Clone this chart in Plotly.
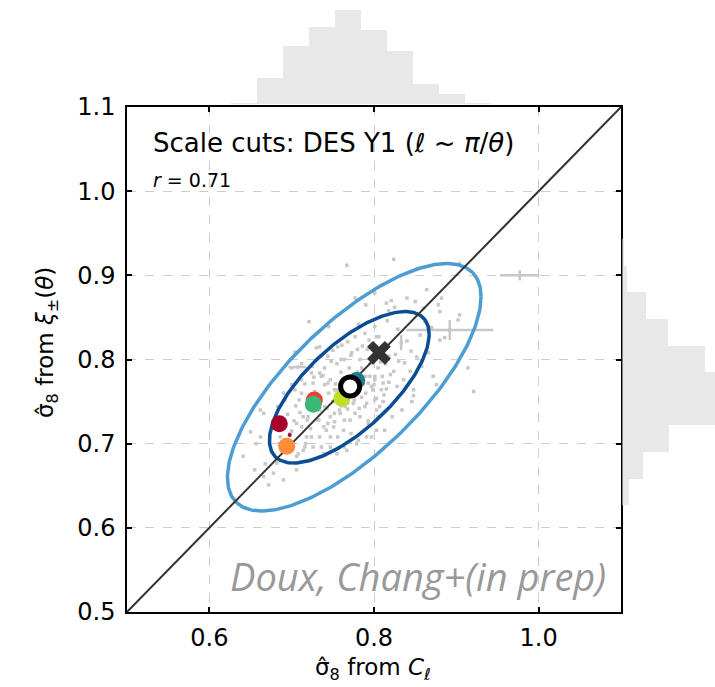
import numpy as np
import plotly.graph_objects as go

# ---------------- data ----------------
# gray simulation points (sigma8 from C_ell, sigma8 from xi)
sim_x = [0.767,0.824,0.904,0.801,0.815,0.790,0.777,0.864,0.840,0.850,0.882,0.821,0.825,0.818,0.878,0.880,0.860,
         0.904,0.902,0.721,0.745,0.781,0.801,0.789,0.803,0.777,0.768,0.761,0.750,0.734,0.730,0.704,0.856,0.880,
         0.886,0.840,0.845,0.826,0.818,0.814,0.830,0.824,0.914,0.872,0.792,0.796,0.783,0.772,0.760,0.748,0.740,
         0.725,0.712,0.700,
         0.734,0.747,0.726,0.755,0.795,0.799,0.791,0.803,0.783,0.771,0.759,0.747,0.739,0.751,0.763,0.747,0.734,
         0.726,0.718,0.714,0.706,0.722,0.739,0.734,0.714,0.706,0.698,0.686,0.666,0.662,0.650,0.662,0.641,0.655,
         0.666,0.678,0.672,0.690,0.706,0.682,0.779,0.775,0.765,0.803,0.791,0.779,0.767,0.755,0.747,
         0.872,0.876,0.921,0.848,0.848,0.846,0.834,0.822,0.807,0.811,0.803,0.799,0.811,0.801,0.820,0.828,0.836,
         0.785,0.795,0.805,0.790,0.780,0.770,0.760,0.755,0.765,0.800,0.810,0.815,0.790,0.785,0.775,0.745,0.740,
         0.735,0.728,0.750,0.760,0.720,0.712,0.705,0.700,0.690,0.695,0.680,0.685,0.700,
         0.787,0.797,0.808,0.776,0.768,0.752,0.742,0.731,0.719,0.758,0.770,0.782,0.793,0.812,0.818,0.744,0.756,
         0.727,0.716,0.709,0.738,0.764,0.773,0.786,0.798,0.806,0.753,0.743,0.733,0.723,0.693,0.676,0.668,0.657,
         0.703,0.710,0.717,0.837,0.844,0.852,0.858,0.866,0.829,0.816,0.862,0.870,0.780,0.794,
         0.736,0.744,0.752,0.740,0.752,0.764,0.777,0.789,0.801,0.809,0.793,0.805,0.772,0.756,0.744,0.732,0.720,
         0.712,0.724,0.736,0.716,0.708,0.683,0.692,0.704,0.712,0.724,0.785,0.793,0.801,0.781,0.768,0.758,0.813,
         0.781,0.764,0.752,0.797]
sim_y = [0.912,0.919,0.914,0.879,0.867,0.865,0.873,0.883,0.873,0.869,0.873,0.870,0.862,0.858,0.865,0.857,0.861,
         0.853,0.847,0.845,0.839,0.842,0.839,0.831,0.827,0.827,0.821,0.817,0.811,0.815,0.814,0.809,0.829,0.823,
         0.826,0.822,0.810,0.806,0.804,0.795,0.798,0.786,0.790,0.780,0.812,0.802,0.800,0.805,0.800,0.798,0.790,
         0.792,0.795,0.790,
         0.784,0.776,0.772,0.764,0.780,0.764,0.748,0.740,0.732,0.728,0.736,0.732,0.720,0.720,0.716,0.708,0.708,
         0.696,0.708,0.692,0.685,0.681,0.688,0.740,0.732,0.724,0.712,0.708,0.736,0.740,0.714,0.708,0.685,0.669,
         0.661,0.665,0.651,0.657,0.669,0.677,0.764,0.748,0.744,0.716,0.708,0.700,0.692,0.688,0.696,
         0.780,0.770,0.762,0.764,0.757,0.750,0.740,0.732,0.744,0.750,0.754,0.764,0.772,0.776,0.782,0.768,0.776,
         0.790,0.795,0.790,0.780,0.785,0.790,0.785,0.795,0.775,0.770,0.780,0.765,0.760,0.755,0.760,0.760,0.770,
         0.755,0.762,0.750,0.745,0.750,0.760,0.745,0.770,0.760,0.735,0.720,0.700,0.715,
         0.771,0.768,0.797,0.752,0.741,0.726,0.716,0.745,0.728,0.770,0.756,0.742,0.727,0.758,0.773,0.804,0.815,
         0.779,0.771,0.752,0.781,0.800,0.808,0.816,0.818,0.827,0.771,0.742,0.728,0.718,0.697,0.690,0.676,0.700,
         0.727,0.737,0.700,0.796,0.786,0.803,0.792,0.808,0.836,0.846,0.845,0.838,0.812,0.823,
         0.780,0.772,0.764,0.744,0.736,0.728,0.736,0.744,0.752,0.764,0.724,0.732,0.712,0.708,0.724,0.728,0.732,
         0.720,0.708,0.696,0.696,0.688,0.744,0.752,0.764,0.776,0.784,0.780,0.772,0.780,0.764,0.748,0.740,0.716,
         0.704,0.696,0.692,0.708]

# simulations with visible error bars
eb_x = [0.977, 0.892, 0.833, 0.707]
eb_y = [0.900, 0.835, 0.820, 0.791]
eb_xerr = [0.024, 0.053, 0.000, 0.011]
eb_yerr = [0.006, 0.012, 0.009, 0.000]

# confidence ellipses (center, half extents, correlation)
ell_outer = dict(cx=0.776, cy=0.767, ax=0.154, ay=0.147, rho=0.73)
ell_inner = dict(cx=0.770, cy=0.767, ax=0.097, ay=0.090, rho=0.70)

# highlighted points
hl_x = [0.779, 0.761, 0.7275, 0.7263, 0.685, 0.694, 0.6976]
hl_y = [0.775, 0.754, 0.752, 0.7468, 0.7237, 0.697, 0.7103]
hl_colors = ["#1c7c8c", "#bddf26", "#e8412e", "#3cb777", "#a8002a", "#fd8c3b", "#b0002a"]
hl_sizes = [17, 17, 17, 17, 17, 17, 4]
data_x, data_y = 0.771, 0.768          # open circle
fid_x, fid_y = 0.806, 0.808            # fiducial cross

# marginal histograms
histx_start, histx_width = 0.626, 0.0316
histx_counts = [1, 26, 58, 77, 94, 74, 53, 20, 10, 1]
histy_start, histy_width = 0.627, 0.0316
histy_counts = [7, 21, 47, 100, 100, 83, 46, 24, 5, 2]

xtick_vals = [0.6, 0.8, 1.0]
ytick_vals = [0.5, 0.6, 0.7, 0.8, 0.9, 1.0, 1.1]

# ---------------- figure ----------------
W, H = 715, 687
fig = go.Figure()

font_main = "DejaVu Sans"

# gray points
fig.add_trace(go.Scatter(x=sim_x, y=sim_y, mode="markers",
                         marker=dict(symbol="square", size=3.5, color="#c8c8c8", opacity=1, line=dict(width=0)),
                         hoverinfo="skip", showlegend=False))
fig.add_trace(go.Scatter(x=eb_x, y=eb_y, mode="markers",
                         marker=dict(symbol="square", size=3.5, color="#c8c8c8", opacity=1),
                         error_x=dict(type="data", array=eb_xerr, color="#c8c8c8", thickness=2.5, width=0),
                         error_y=dict(type="data", array=eb_yerr, color="#c8c8c8", thickness=2.5, width=0),
                         hoverinfo="skip", showlegend=False))

# ellipses
t = np.linspace(0, 2 * np.pi, 300)
for e, col in [(ell_outer, "#4d9dd2"), (ell_inner, "#0a4d94")]:
    ex = e["cx"] + e["ax"] * np.cos(t)
    ey = e["cy"] + e["ay"] * (e["rho"] * np.cos(t) + np.sqrt(1 - e["rho"] ** 2) * np.sin(t))
    fig.add_trace(go.Scatter(x=ex, y=ey, mode="lines", line=dict(color=col, width=3.5),
                             hoverinfo="skip", showlegend=False))

# diagonal
fig.add_trace(go.Scatter(x=[0.5, 1.1], y=[0.5, 1.1], mode="lines",
                         line=dict(color="#333333", width=2), hoverinfo="skip", showlegend=False))

# highlighted points
fig.add_trace(go.Scatter(x=hl_x, y=hl_y, mode="markers",
                         marker=dict(size=hl_sizes, color=hl_colors, opacity=1, line=dict(width=0)),
                         hoverinfo="skip", showlegend=False))
fig.add_trace(go.Scatter(x=[data_x], y=[data_y], mode="markers",
                         marker=dict(size=19, color="white", opacity=1, line=dict(color="black", width=5)),
                         hoverinfo="skip", showlegend=False))
fig.add_trace(go.Scatter(x=[fid_x], y=[fid_y], mode="markers",
                         marker=dict(symbol="x", size=21, color="#333333", opacity=1, line=dict(width=0)),
                         hoverinfo="skip", showlegend=False))

# marginal histograms
hx_centers = [histx_start + (i + 0.5) * histx_width for i in range(len(histx_counts))]
hy_centers = [histy_start + (i + 0.5) * histy_width for i in range(len(histy_counts))]
fig.add_trace(go.Bar(x=hx_centers, y=histx_counts, width=histx_width, marker=dict(color="#e8e8e8", line=dict(width=0)),
                     xaxis="x2", yaxis="y2", hoverinfo="skip", showlegend=False))
fig.add_trace(go.Bar(y=hy_centers, x=histy_counts, width=histy_width, orientation="h",
                     marker=dict(color="#e8e8e8", line=dict(width=0)),
                     xaxis="x3", yaxis="y3", hoverinfo="skip", showlegend=False))

x0, x1 = 127 / W, 621 / W
y0, y1 = (H - 612) / H, (H - 107) / H

axis_common = dict(range=[0.5, 1.1], showline=True, linecolor="black", linewidth=1.5, mirror="ticks",
                   ticks="inside", ticklen=5, tickwidth=1.5, tickcolor="black",
                   showgrid=True, gridcolor="#cccccc", griddash="dash", gridwidth=1,
                   zeroline=False, automargin=False,
                   tickfont=dict(family=font_main, size=24, color="black"))

fig.update_layout(
    width=W, height=H, margin=dict(l=0, r=0, t=0, b=0, pad=0, autoexpand=False),
    paper_bgcolor="white", plot_bgcolor="rgba(0,0,0,0)",
    bargap=0,
    xaxis=dict(domain=[x0, x1], tickvals=xtick_vals, ticktext=["0.6", "0.8", "1.0"],
               ticklabelstandoff=3, **axis_common),
    yaxis=dict(domain=[y0, y1], tickvals=ytick_vals, ticktext=[f"{v:.1f}" for v in ytick_vals],
               ticklabelstandoff=5, **axis_common),
    xaxis2=dict(domain=[x0, x1], range=[0.5, 1.1], visible=False, anchor="y2"),
    yaxis2=dict(domain=[(H - 104.3) / H, 1.0], range=[0, 104.3], visible=False, anchor="x2"),
    xaxis3=dict(domain=[x1 + 0.002, 1.0], range=[0, 93], visible=False, anchor="y3"),
    yaxis3=dict(domain=[y0, y1], range=[0.5, 1.1], visible=False, anchor="x3"),
    showlegend=False,
)

fig.add_annotation(x=151 / W, y=1 - 143 / H, xref="paper", yref="paper", xanchor="left", yanchor="middle",
                   text="Scale cuts: DES Y1 (<i>ℓ</i> ~ <i>π</i>/<i>θ</i>)", showarrow=False,
                   font=dict(family=font_main, size=26, color="black"))
fig.add_annotation(x=151 / W, y=1 - 180 / H, xref="paper", yref="paper", xanchor="left", yanchor="middle",
                   text="<i>r</i> = 0.71", showarrow=False,
                   font=dict(family=font_main, size=19, color="black"))
fig.add_annotation(x=608 / W, y=1 - 576 / H, xref="paper", yref="paper", xanchor="right", yanchor="middle",
                   text="<i>Doux, Chang+(in prep)</i>", showarrow=False,
                   font=dict(family="Open Sans", size=38, color="#999999"))
fig.add_annotation(x=373 / W, y=1 - 669 / H, xref="paper", yref="paper", xanchor="center", yanchor="middle",
                   text="σ̂<sub>8</sub> from <i>C</i><sub><i>ℓ</i></sub>", showarrow=False,
                   font=dict(family=font_main, size=23, color="black"))
fig.add_annotation(x=47 / W, y=1 - 343 / H, xref="paper", yref="paper", xanchor="center", yanchor="middle",
                   text="σ̂<sub>8</sub> from <i>ξ</i><sub>±</sub>(<i>θ</i>)", showarrow=False, textangle=-90,
                   font=dict(family=font_main, size=23, color="black"))

fig.write_html("out.html")
